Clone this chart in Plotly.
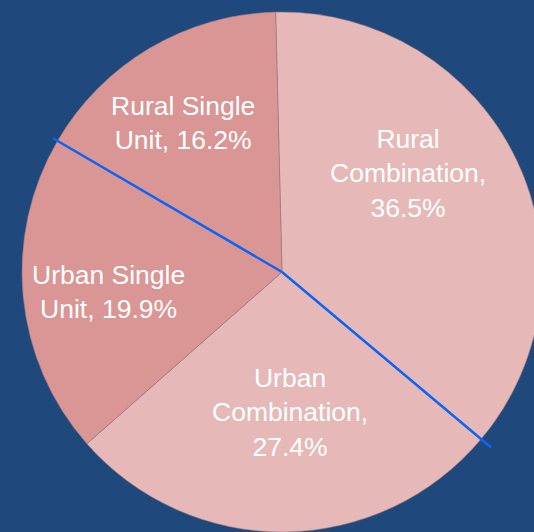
import math
import plotly.graph_objects as go

# ---- data ----
categories = ["Rural Combination", "Urban Combination", "Urban Single Unit", "Rural Single Unit"]
shares = [36.5, 27.4, 19.9, 16.2]
label_templates = ["Rural<br>Combination,<br>{:.1f}%", "Urban<br>Combination,<br>{:.1f}%",
                   "Urban Single<br>Unit, {:.1f}%", "Rural Single<br>Unit, {:.1f}%"]
# boundaries (between slices) highlighted with the blue divider: after index 0 and after index 2
divider_after = [0, 2]

# ---- styling ----
W, H = 560, 560
cx_px, cy_px, r_px = 282, 272, 260
rotation = -1.4
slice_colors = ["#E6B9B8", "#E6B9B8", "#D99694", "#D99694"]
bg = "#1F497D"
divider_len = [1.05, 1.02]
label_angle_shift = [-12.5, -2.5, -1.0, -3.1]   # degrees from slice bisector
label_radius = [0.615, 0.54, 0.67, 0.69]         # fraction of pie radius
font_family = "Liberation Sans, Arial, sans-serif"

texts = [t.format(v) for t, v in zip(label_templates, shares)]
total = sum(shares)

fig = go.Figure()
fig.add_trace(go.Pie(
    labels=categories,
    values=shares,
    text=texts,
    textinfo="none",
    sort=False,
    direction="clockwise",
    rotation=rotation,
    marker=dict(colors=slice_colors, line=dict(color="rgba(150,120,125,0.7)", width=0.8)),
    domain=dict(x=[(cx_px - r_px) / W, (cx_px + r_px) / W],
                y=[1 - (cy_px + r_px) / H, 1 - (cy_px - r_px) / H]),
    showlegend=False,
    hoverinfo="label+percent",
))

# data labels placed around each slice's bisector
annotations = []
cum = 0.0
for i, v in enumerate(shares):
    mid = rotation + (cum + v / 2) / total * 360 + label_angle_shift[i]
    cum += v
    a = math.radians(mid)
    L = r_px * label_radius[i]
    x = cx_px + L * math.sin(a)
    y = cy_px - L * math.cos(a)
    annotations.append(dict(x=x / W, y=1 - y / H, xref="paper", yref="paper",
                            text=texts[i], showarrow=False, xanchor="center", yanchor="middle",
                            align="center",
                            font=dict(family=font_family, size=26.5, color="white")))

# blue dividers computed from the data
shapes = []
for k, idx in enumerate(divider_after):
    frac = sum(shares[:idx + 1]) / total
    ang = math.radians(rotation + frac * 360)
    L = r_px * divider_len[k]
    x1 = cx_px + L * math.sin(ang)
    y1 = cy_px - L * math.cos(ang)
    shapes.append(dict(type="line", xref="paper", yref="paper", layer="above",
                       x0=cx_px / W, y0=1 - cy_px / H, x1=x1 / W, y1=1 - y1 / H,
                       line=dict(color="#0A64F5", width=2.5)))

fig.update_layout(
    width=W, height=H,
    margin=dict(l=0, r=0, t=0, b=0),
    paper_bgcolor=bg, plot_bgcolor=bg,
    shapes=shapes,
    annotations=annotations,
)

fig.write_html("out.html", config={"displayModeBar": False},
               post_script="document.body.style.margin='0';document.body.style.overflow='hidden';document.documentElement.style.overflow='hidden';")
